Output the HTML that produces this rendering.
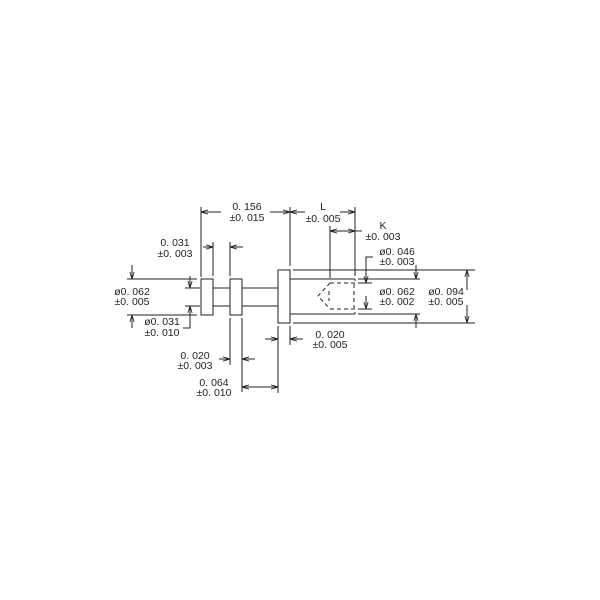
<!DOCTYPE html>
<html><head><style>html,body{margin:0;padding:0;background:#fff}svg{display:block}text{font-family:"Liberation Sans",sans-serif;font-size:10.5px;fill:#222;text-anchor:middle}</style></head>
<body>
<svg width="600" height="600" viewBox="0 0 600 600" xmlns="http://www.w3.org/2000/svg">
<defs><marker id="a" viewBox="0 0 10 10" refX="10" refY="5" markerWidth="7" markerHeight="7" orient="auto-start-reverse" markerUnits="userSpaceOnUse"><path d="M0,2 L10,5 L0,8" fill="none" stroke="#222" stroke-width="1.2"/></marker></defs>
<g stroke="#222" stroke-width="1" fill="none">
<rect x="201" y="279" width="12" height="36"/>
<rect x="230" y="279" width="12" height="36"/>
<line x1="213" y1="288" x2="230" y2="288"/><line x1="213" y1="306" x2="230" y2="306"/>
<line x1="242" y1="288" x2="278" y2="288"/><line x1="242" y1="306" x2="278" y2="306"/>
<rect x="278" y="270" width="12" height="53"/>
<line x1="290" y1="279" x2="355" y2="279"/><line x1="290" y1="314" x2="355" y2="314"/>
<line x1="355" y1="279" x2="355" y2="281"/><line x1="355" y1="312" x2="355" y2="314"/>
<g stroke-dasharray="4,3">
<line x1="330" y1="283" x2="355" y2="283"/><line x1="330" y1="309" x2="355" y2="309"/>
<line x1="354" y1="284" x2="354" y2="308"/>
<polyline points="330,283 318,296 330,309"/>
<line x1="329" y1="291" x2="329" y2="301"/>
</g>
<line x1="201" y1="207" x2="201" y2="277"/>
<line x1="290" y1="207" x2="290" y2="266"/>
<line x1="355" y1="207" x2="355" y2="276"/>
<line x1="330" y1="226" x2="330" y2="278"/>
<line x1="213" y1="242" x2="213" y2="276"/>
<line x1="230" y1="242" x2="230" y2="276"/>
<line x1="230" y1="318" x2="230" y2="365"/>
<line x1="242" y1="318" x2="242" y2="392"/>
<line x1="278" y1="326" x2="278" y2="393"/>
<line x1="290" y1="326" x2="290" y2="345"/>
<line x1="127" y1="279" x2="197" y2="279"/><line x1="127" y1="315" x2="197" y2="315"/>
<line x1="185" y1="288" x2="200" y2="288"/><line x1="185" y1="306" x2="200" y2="306"/>
<line x1="293" y1="270" x2="475" y2="270"/><line x1="293" y1="323" x2="475" y2="323"/>
<line x1="358" y1="279" x2="420" y2="279"/><line x1="358" y1="314" x2="420" y2="314"/>
<line x1="358" y1="283" x2="372" y2="283"/><line x1="358" y1="309" x2="372" y2="309"/>
<line x1="221" y1="212" x2="201" y2="212" marker-end="url(#a)"/>
<line x1="270" y1="212" x2="290" y2="212" marker-end="url(#a)"/>
<line x1="305" y1="212" x2="290" y2="212" marker-end="url(#a)"/>
<line x1="340" y1="212" x2="355" y2="212" marker-end="url(#a)"/>
<line x1="340" y1="231" x2="330" y2="231" marker-end="url(#a)"/>
<line x1="340" y1="231" x2="355" y2="231" marker-end="url(#a)"/>
<line x1="355" y1="231" x2="362" y2="231"/>
<line x1="203" y1="247" x2="213" y2="247" marker-end="url(#a)"/>
<line x1="243" y1="247" x2="230" y2="247" marker-end="url(#a)"/>
<line x1="219" y1="359" x2="230" y2="359" marker-end="url(#a)"/>
<line x1="255" y1="359" x2="242" y2="359" marker-end="url(#a)"/>
<line x1="260" y1="387" x2="242" y2="387" marker-end="url(#a)"/>
<line x1="260" y1="387" x2="278" y2="387" marker-end="url(#a)"/>
<line x1="265" y1="339" x2="278" y2="339" marker-end="url(#a)"/>
<line x1="303" y1="339" x2="290" y2="339" marker-end="url(#a)"/>
<line x1="132" y1="265" x2="132" y2="279" marker-end="url(#a)"/>
<line x1="132" y1="328" x2="132" y2="315" marker-end="url(#a)"/>
<line x1="190" y1="276" x2="190" y2="288" marker-end="url(#a)"/>
<polyline points="183,328 190,328 190,306" marker-end="url(#a)"/>
<polyline points="373,257 366,257 366,283" marker-end="url(#a)"/>
<line x1="366" y1="296" x2="366" y2="309" marker-end="url(#a)"/>
<line x1="416" y1="265" x2="416" y2="279" marker-end="url(#a)"/>
<line x1="416" y1="328" x2="416" y2="314" marker-end="url(#a)"/>
<line x1="467" y1="290" x2="467" y2="270" marker-end="url(#a)"/>
<line x1="467" y1="305" x2="467" y2="323" marker-end="url(#a)"/>
</g>
<text x="247" y="210">0. 156</text><text x="247" y="221">±0. 015</text>
<text x="323" y="210">L</text><text x="323" y="222">±0. 005</text>
<text x="383" y="229">K</text><text x="383" y="240">±0. 003</text>
<text x="397" y="255">ø0. 046</text><text x="397" y="265">±0. 003</text>
<text x="397" y="295">ø0. 062</text><text x="397" y="305">±0. 002</text>
<text x="446" y="295">ø0. 094</text><text x="446" y="305">±0. 005</text>
<text x="175" y="246">0. 031</text><text x="175" y="257">±0. 003</text>
<text x="132" y="295">ø0. 062</text><text x="132" y="305">±0. 005</text>
<text x="162" y="325">ø0. 031</text><text x="162" y="336">±0. 010</text>
<text x="195" y="359">0. 020</text><text x="195" y="369">±0. 003</text>
<text x="214" y="386">0. 064</text><text x="214" y="396">±0. 010</text>
<text x="330" y="338">0. 020</text><text x="330" y="348">±0. 005</text>
</svg>
</body></html>
